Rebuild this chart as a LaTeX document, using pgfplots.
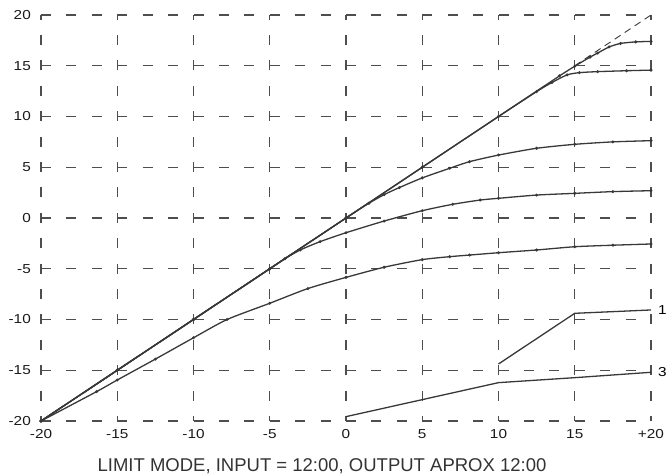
\documentclass[border=0pt]{standalone}
\usepackage{pgfplots}
\pgfplotsset{compat=1.18}
\usepackage{fontspec}
\setmainfont{Liberation Sans}[FakeStretch=1.18]
\newfontfamily\titlefont{Liberation Sans}
\definecolor{curve}{HTML}{383838}
\definecolor{gridc}{HTML}{4E4E4E}
\tikzset{cv/.style={color=curve, line width=1.3pt, mark=*, mark size=0.75pt, mark options={solid, fill=curve}, smooth, tension=0.4}}
\begin{document}
\begin{tikzpicture}
\useasboundingbox (-41pt,-54pt) rectangle (625pt,421pt);
\begin{axis}[
  at={(0pt,0pt)}, anchor=south west,
  scale only axis, width=610pt, height=406pt,
  xmin=-20, xmax=20, ymin=-20, ymax=20,
  xtick={-20,-15,...,20}, ytick={-20,-15,...,20},
  xticklabels={-20,-15,-10,-5,0,5,10,15,+20},
  yticklabels={-20,-15,-10,-5,0,5,10,15,20},
  axis line style={draw=none},
  major tick length=0pt,
  grid=major,
  x grid style={gridc, line width=1.1pt, dash pattern=on 10pt off 15.4pt, dash phase=5pt},
  y grid style={gridc, line width=1.1pt, dash pattern=on 10pt off 15.42pt},
  tick label style={font=\fontsize{13}{15}\selectfont, text=black!90, inner sep=0pt},
  xticklabel style={yshift=-8pt},
  yticklabel style={xshift=-10pt},
  clip=false,
]
% Curve A (-> 17.4)
\addplot[cv] coordinates {(-20,-20) (-15,-15) (-10,-10) (-5,-5) (0,0) (5,5) (10,10) (14,14) (15,14.95) (16,15.85) (16.5,16.25) (17.25,16.85) (18,17.2) (19,17.35) (20,17.4)};
% Curve B (-> 14.6)
\addplot[cv] coordinates {(-20,-20) (-15,-15) (-10,-10) (-5,-5) (0,0) (5,5) (10,10) (12.5,12.45) (13.5,13.35) (14.5,14.1) (15.3,14.32) (16.5,14.42) (18.4,14.51) (20,14.57)};
% Curve C (-> 7.7)
\addplot[cv] coordinates {(-20,-20) (-15,-15) (-10,-10) (-5,-5) (0,0) (1.5,1.45) (2.5,2.3) (3.5,3.0) (5,3.95) (6.8,4.9) (8.1,5.55) (10,6.2) (12.5,6.87) (15,7.26) (17.5,7.5) (20,7.62)};
% Curve D (-> 2.7)
\addplot[cv] coordinates {(-20,-20) (-15,-15) (-10,-10) (-5,-5) (-4,-4.0) (-3,-3.15) (-1.7,-2.33) (0,-1.45) (2.5,-0.3) (5,0.72) (7,1.35) (8.8,1.77) (10,1.94) (12.5,2.26) (15,2.43) (17.5,2.6) (20,2.69)};
% Curve E (-> -2.6)
\addplot[cv] coordinates {(-20,-20) (-16.35,-17.1) (-15,-15.96) (-12.5,-13.9) (-10,-11.8) (-7.8,-10) (-5,-8.4) (-2.5,-6.95) (0,-5.85) (2.5,-4.85) (5,-4.1) (6.8,-3.81) (8.1,-3.65) (10,-3.42) (12.5,-3.15) (15,-2.83) (17.5,-2.68) (20,-2.56)};
% dashed identity extension
\addplot[curve, line width=0.9pt, mark=none, dash pattern=on 7pt off 5pt] coordinates {(15,15) (20,20)};
% segment 1
\addplot[curve, line width=1.3pt, mark=none] coordinates {(10,-14.38) (15,-9.39) (20,-9.06)};
% segment 3
\addplot[curve, line width=1.3pt, mark=none] coordinates {(0,-19.57) (10,-16.22) (15,-15.73) (20,-15.2)};
\node[anchor=west, font=\fontsize{13}{15}\selectfont, inner sep=0pt] at (axis cs:20,-9.06) [xshift=7pt] {1};
\node[anchor=west, font=\fontsize{13}{15}\selectfont, inner sep=0pt] at (axis cs:20,-15.2) [xshift=7pt] {3};
\node[font=\titlefont\fontsize{18.5}{22}\selectfont, text=black!80] at (rel axis cs:0.5,0) [xshift=-24pt, yshift=-45.5pt] {LIMIT MODE, INPUT = 12:00, OUTPUT APROX 12:00};
\end{axis}
\end{tikzpicture}
\end{document}
